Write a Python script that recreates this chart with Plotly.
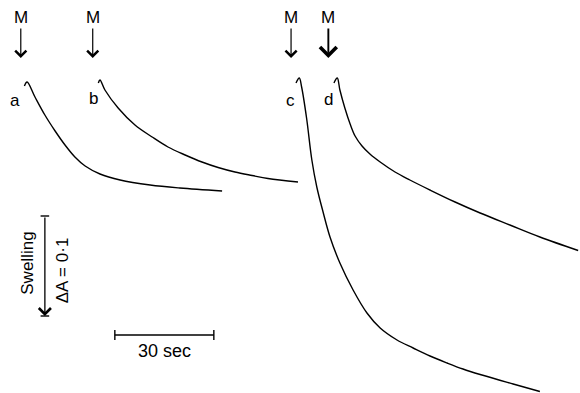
import plotly.graph_objects as go

# ---- data (time in s, relative absorbance) ----
t_a = [7.4, 8.2, 10.6, 13.6, 16.7, 19.7, 22.7, 25.8, 30.3, 36.4, 45.5, 54.5, 67.3]
A_a = [0.307, 0.311, 0.296, 0.278, 0.262, 0.248, 0.236, 0.227, 0.219, 0.213, 0.208, 0.205, 0.202]

t_b = [29.8, 30.3, 31.8, 35.8, 40.9, 46.1, 50.9, 56.1, 61.2, 66.1, 71.2, 76.4, 81.2, 90.3]
A_b = [0.310, 0.313, 0.303, 0.285, 0.268, 0.256, 0.246, 0.238, 0.231, 0.2255, 0.221, 0.2175, 0.2145, 0.211]

t_c = [89.7, 90.7, 91.4, 92.9, 94.5, 96.0, 97.9, 100.0, 103.0, 107.0, 111.2, 115.2, 120.3,
       125.2, 130.3, 135.5, 140.3, 145.5, 155.5, 163.6]
A_c = [0.310, 0.315, 0.306, 0.275, 0.233, 0.206, 0.181, 0.156, 0.130, 0.103, 0.080, 0.065, 0.053,
       0.045, 0.037, 0.030, 0.024, 0.0185, 0.009, 0.0015]

t_d = [101.2, 102.2, 103.0, 104.5, 106.1, 107.6, 109.7, 112.1, 115.2, 119.7, 124.2, 130.3,
       137.9, 145.5, 154.5, 163.6, 175.2]
A_d = [0.310, 0.315, 0.303, 0.285, 0.269, 0.257, 0.247, 0.239, 0.231, 0.221, 0.213, 0.203,
       0.191, 0.180, 0.168, 0.156, 0.1425]

curve_labels = ["a", "b", "c", "d"]
label_t = [4.5, 28.2, 88.1, 99.4]
label_A = [0.293, 0.295, 0.293, 0.294]

M_t = [6.3, 28.1, 88.2, 99.5]     # time of addition of M
M_arrow_tip = 0.335
M_arrow_tail = 0.366
M_text_A = 0.376

# scale bars
vbar_t = 13.6
vbar_A = [0.177, 0.077]   # delta A = 0.1
hbar_t = [34.8, 64.8]     # 30 sec
hbar_A = 0.058

FONT = "Liberation Sans, Arial, sans-serif"
BLACK = "#000000"

fig = go.Figure()
for t, A in [(t_a, A_a), (t_b, A_b), (t_c, A_c), (t_d, A_d)]:
    fig.add_trace(go.Scatter(x=t, y=A, mode="lines",
                             line=dict(color=BLACK, width=1.4, shape="spline", smoothing=1.0),
                             hoverinfo="skip", showlegend=False))

annotations = []
for lab, x, y in zip(curve_labels, label_t, label_A):
    annotations.append(dict(x=x, y=y, text=lab, showarrow=False,
                            font=dict(family=FONT, size=17, color=BLACK)))
for i, x in enumerate(M_t):
    annotations.append(dict(x=x, y=M_text_A, text="M", showarrow=False,
                            font=dict(family=FONT, size=17, color=BLACK)))
    annotations.append(dict(x=x, y=M_arrow_tip, ax=x, ay=M_arrow_tail,
                            xref="x", yref="y", axref="x", ayref="y",
                            text="", showarrow=True, arrowhead=4,
                            arrowsize=1.7 if i == 3 else 1.8,
                            arrowwidth=1.9 if i == 3 else 1.2, arrowcolor=BLACK))

# vertical scale arrow
annotations.append(dict(x=vbar_t, y=vbar_A[1], ax=vbar_t, ay=vbar_A[0],
                        xref="x", yref="y", axref="x", ayref="y",
                        text="", showarrow=True, arrowhead=4, arrowsize=1.8,
                        arrowwidth=1.3, arrowcolor=BLACK))
annotations.append(dict(x=vbar_t - 5.5, y=(vbar_A[0] + vbar_A[1]) / 2 + 0.003, text="Swelling",
                        textangle=-90, showarrow=False,
                        font=dict(family=FONT, size=17, color=BLACK)))
annotations.append(dict(x=vbar_t + 5.3, y=(vbar_A[0] + vbar_A[1]) / 2 - 0.004, text="\u0394A = 0\u00b71",
                        textangle=-90, showarrow=False,
                        font=dict(family=FONT, size=17, color=BLACK)))
annotations.append(dict(x=(hbar_t[0] + hbar_t[1]) / 2, y=hbar_A - 0.016, text="30 sec",
                        showarrow=False, font=dict(family=FONT, size=18, color=BLACK)))

shapes = [
    dict(type="line", x0=vbar_t - 1.3, x1=vbar_t + 1.3, y0=vbar_A[0], y1=vbar_A[0],
         line=dict(color=BLACK, width=1.4)),
    dict(type="line", x0=vbar_t - 1.3, x1=vbar_t + 1.3, y0=vbar_A[1], y1=vbar_A[1],
         line=dict(color=BLACK, width=1.4)),
    dict(type="line", x0=hbar_t[0], x1=hbar_t[1], y0=hbar_A, y1=hbar_A,
         line=dict(color=BLACK, width=1.6)),
    dict(type="line", x0=hbar_t[0], x1=hbar_t[0], y0=hbar_A - 0.005, y1=hbar_A + 0.005,
         line=dict(color=BLACK, width=1.4)),
    dict(type="line", x0=hbar_t[1], x1=hbar_t[1], y0=hbar_A - 0.005, y1=hbar_A + 0.005,
         line=dict(color=BLACK, width=1.4)),
]

fig.update_layout(
    width=580, height=393,
    margin=dict(l=0, r=0, t=0, b=0),
    paper_bgcolor="white", plot_bgcolor="white",
    xaxis=dict(range=[0, 580 / 3.3], visible=False, fixedrange=True),
    yaxis=dict(range=[0, 0.393], visible=False, fixedrange=True),
    annotations=annotations, shapes=shapes,
    showlegend=False,
)
fig.write_html("out.html")
